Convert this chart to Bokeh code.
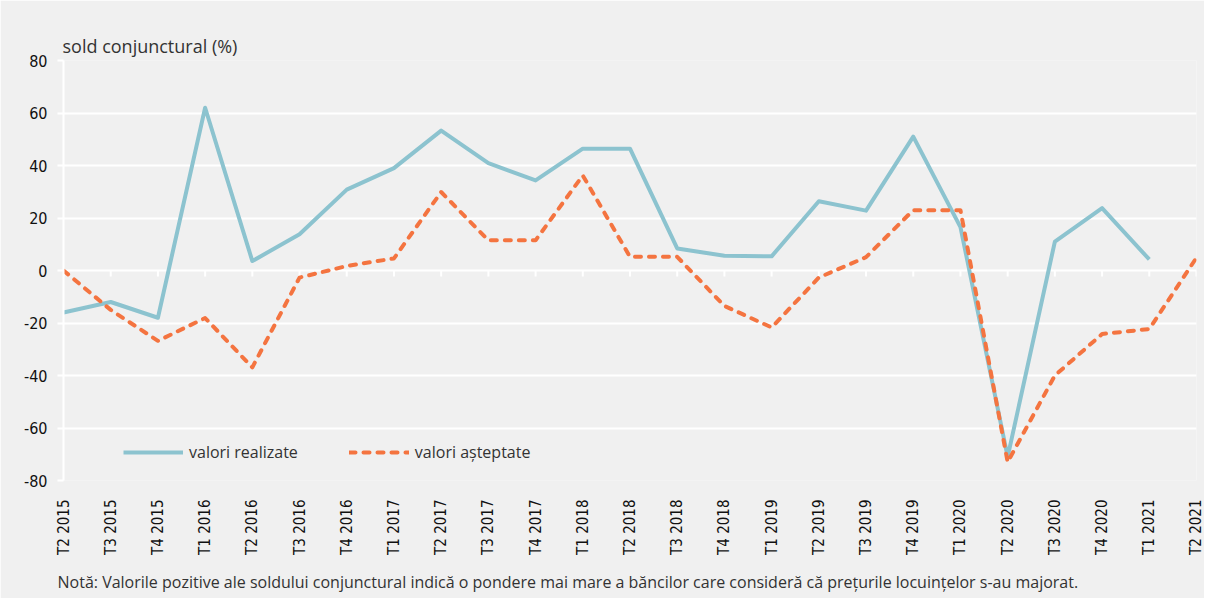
import math
from bokeh.plotting import figure
from bokeh.models import (ColumnDataSource, Range1d, FixedTicker, Legend, LegendItem, Title)
from bokeh.core.properties import value
from bokeh.embed import file_html
from bokeh.resources import INLINE

quarters = ["T2 2015", "T3 2015", "T4 2015", "T1 2016", "T2 2016", "T3 2016", "T4 2016",
            "T1 2017", "T2 2017", "T3 2017", "T4 2017", "T1 2018", "T2 2018", "T3 2018",
            "T4 2018", "T1 2019", "T2 2019", "T3 2019", "T4 2019", "T1 2020", "T2 2020",
            "T3 2020", "T4 2020", "T1 2021", "T2 2021"]
realized = [-16, -12, -18, 62, 3.6, 13.8, 30.8, 39, 53.3, 40.9, 34.3, 46.4, 46.4, 8.4,
            5.6, 5.4, 26.4, 22.8, 51, 16.5, -71, 11, 23.8, 4.2, float("nan")]
expected = [0, -15, -26.8, -18.1, -36.9, -2.7, 1.7, 4.6, 29.9, 11.5, 11.5, 36.2, 5.2, 5.2,
            -13.5, -21.7, -2.7, 5.1, 23, 23, -73, -40, -24.2, -22.3, 4.9]
y_ticks = [-80, -60, -40, -20, 0, 20, 40, 60, 80]

label_realized = "valori realizate"
label_expected = "valori așteptate"
y_title = "sold conjunctural (%)"
note = ("Notă: Valorile pozitive ale soldului conjunctural indică o pondere mai mare a "
        "băncilor care consideră că prețurile locuințelor s-au majorat.")

idx = list(range(len(quarters)))
src = ColumnDataSource(dict(x=idx, r=realized, e=expected))

BG = "#f0f0f0"
BLUE = "#8cc3cf"
ORANGE = "#f47440"
TICK_FONT = "DejaVu Sans Condensed"
TEXT_FONT = "Open Sans"

p = figure(frame_width=1133, frame_height=420, output_backend="svg", toolbar_location=None,
           x_range=Range1d(0, len(quarters) - 1), y_range=Range1d(-80, 80),
           min_border_left=63, min_border_right=8, min_border_top=60, min_border_bottom=108)
p.background_fill_color = BG
p.border_fill_color = BG
p.outline_line_color = None

# title (y unit)
p.title.text = y_title
p.title.align = "left"
p.title.offset = -1
p.title.standoff = 6
p.title.text_font = TEXT_FONT
p.title.text_font_size = "18px"
p.title.text_font_style = "normal"
p.title.text_color = "#333333"

# grid
p.xgrid.visible = False
p.ygrid.ticker = FixedTicker(ticks=y_ticks)
p.ygrid.grid_line_color = "white"
p.ygrid.grid_line_width = 2

# y axis
p.yaxis.ticker = FixedTicker(ticks=y_ticks)
p.yaxis.major_label_overrides = {v: str(v) for v in y_ticks}
p.yaxis.axis_line_color = "white"
p.yaxis.axis_line_width = 2
p.yaxis.major_tick_line_color = "white"
p.yaxis.major_tick_line_width = 2
p.yaxis.major_tick_out = 6
p.yaxis.major_tick_in = 0
p.yaxis.minor_tick_line_color = None
p.yaxis.major_label_standoff = 10
p.yaxis.major_label_text_font = TICK_FONT
p.yaxis.major_label_text_font_size = "16px"
p.yaxis.major_label_text_color = "#111111"

# x axis (labels at bottom, line at zero drawn as ticks)
p.xaxis.ticker = FixedTicker(ticks=idx)
p.xaxis.major_label_overrides = {i: q for i, q in zip(idx, quarters)}
p.xaxis.major_label_orientation = math.pi / 2
p.xaxis.axis_line_color = None
p.xaxis.major_tick_line_color = None
p.xaxis.minor_tick_line_color = None
p.xaxis.major_label_standoff = 13
p.xaxis.major_label_text_font = TICK_FONT
p.xaxis.major_label_text_font_size = "15px"
p.xaxis.major_label_text_color = "#111111"

# tick marks on the zero line
tick_src = ColumnDataSource(dict(x=idx, y0=[0] * len(idx), y1=[-2.3] * len(idx)))
p.segment(x0="x", y0="y0", x1="x", y1="y1", source=tick_src, line_color="white", line_width=2)

r1 = p.line("x", "r", source=src, line_color=BLUE, line_width=4, line_join="round")
r2 = p.line("x", "e", source=src, line_color=ORANGE, line_width=4, line_dash="6 8",
            line_cap="round", line_join="round")

legend = Legend(items=[LegendItem(label=label_realized, renderers=[r1]),
                       LegendItem(label=label_expected, renderers=[r2])],
                orientation="horizontal", location=(60, 17),
                glyph_width=60, glyph_height=20, label_height=20, label_standoff=6,
                spacing=51, padding=0, margin=0,
                label_text_font=TEXT_FONT, label_text_font_size="16px",
                label_text_color="#333333",
                background_fill_alpha=0, border_line_color=None)
p.add_layout(legend, "center")

p.add_layout(Title(text=note, align="left", offset=-6, standoff=22,
                   text_font=TEXT_FONT, text_font_size="16px", text_font_style="normal",
                   text_color="#333333"), "below")

open("out.html", "w").write(file_html(p, INLINE))
